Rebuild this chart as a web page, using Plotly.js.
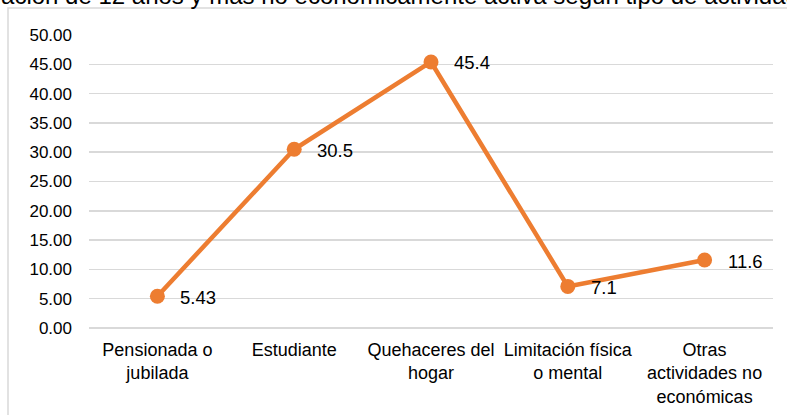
<!DOCTYPE html>
<html>
<head>
<meta charset="utf-8">
<script src="https://cdn.plot.ly/plotly-3.0.1.min.js"></script>
<style>
  html, body { margin: 0; padding: 0; background: #ffffff; }
  #chart { width: 787px; height: 415px; }
</style>
</head>
<body>
<div id="chart"></div>
<script>
const chartTitle = "Población de 12 años y más no económicamente activa según tipo de actividad";
const categories = [
  "Pensionada o<br>jubilada",
  "Estudiante",
  "Quehaceres del<br>hogar",
  "Limitación física<br>o mental",
  "Otras<br>actividades no<br>económicas"
];
const values = [5.43, 30.5, 45.4, 7.1, 11.6];
const valueLabels = ["5.43", "30.5", "45.4", "7.1", "11.6"];
const yTicks = [0, 5, 10, 15, 20, 25, 30, 35, 40, 45, 50];

const FONT = "Liberation Sans, Arial, sans-serif";
const ORANGE = "#ED7D31";
const GRID = "#d9d9d9";

const trace = {
  type: "scatter",
  mode: "lines+markers",
  x: categories,
  y: values,
  line: { color: ORANGE, width: 4.5 },
  marker: { color: ORANGE, size: 15 },
  hoverinfo: "none",
  cliponaxis: false
};

const labelAnnotations = categories.map((c, i) => ({
  x: c, y: values[i], xref: "x", yref: "y",
  text: valueLabels[i], showarrow: false,
  xanchor: "left", yanchor: "middle",
  xshift: 21, yshift: -1,
  font: { family: FONT, size: 18.5, color: "#000000" }
}));

const layout = {
  width: 787, height: 415,
  margin: { l: 89, r: 14, t: 35, b: 86.5, pad: 0 },
  paper_bgcolor: "#ffffff",
  plot_bgcolor: "#ffffff",
  showlegend: false,
  font: { family: FONT, size: 17, color: "#000000" },
  xaxis: {
    type: "category",
    range: [-0.5, 4.5],
    showgrid: false, zeroline: false, showline: false,
    ticks: "",
    ticklabelstandoff: 9,
    tickfont: { family: FONT, size: 18, color: "#000000" },
    fixedrange: true
  },
  yaxis: {
    range: [0, 50],
    tickvals: yTicks,
    tickformat: ".2f",
    showgrid: true, gridcolor: GRID, gridwidth: 1.5,
    zeroline: true, zerolinecolor: GRID, zerolinewidth: 1.5,
    showline: false, ticks: "",
    ticklabelstandoff: 16,
    tickfont: { family: FONT, size: 17, color: "#000000" },
    fixedrange: true
  },
  shapes: [{
    type: "rect", xref: "paper", yref: "paper",
    x0: (8 - 89) / 684, x1: 1.2,
    y0: -0.5, y1: (328.5 - 8) / 293.5,
    line: { color: GRID, width: 1.5 },
    fillcolor: "rgba(0,0,0,0)", layer: "below"
  }],
  annotations: [{
    xref: "paper", yref: "paper",
    x: (376 - 89) / 684, y: (328.5 - 11) / 293.5,
    xanchor: "center", yanchor: "bottom",
    text: chartTitle, showarrow: false,
    font: { family: FONT, size: 24, color: "#000000" }
  }].concat(labelAnnotations)
};

Plotly.newPlot("chart", [trace], layout, { displayModeBar: false, staticPlot: true });
</script>
</body>
</html>
